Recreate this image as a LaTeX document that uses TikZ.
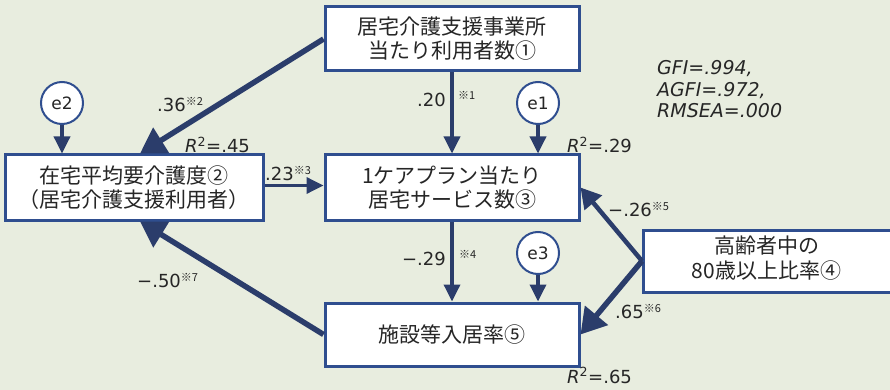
\documentclass[tikz,border=0pt]{standalone}
\usepackage{fontspec}
\setmainfont{DejaVu Sans}
\newfontfamily\jp{Noto Sans CJK JP}
\usetikzlibrary{arrows.meta,calc}
\definecolor{bgc}{HTML}{E8EDDF}
\definecolor{navy}{HTML}{2B3D6B}
\definecolor{boxblue}{HTML}{2F4E8F}
\definecolor{txt}{HTML}{262626}
\newcommand\kome[1]{\raisebox{6pt}{\fontsize{11}{11}\selectfont\jp ※#1}}
\begin{document}
\begin{tikzpicture}[x=1pt,y=-1pt,
  box/.style={draw=boxblue, line width=3pt, fill=white, font=\jp\fontsize{21}{24}\selectfont, text=txt, align=center, inner sep=0pt},
  err/.style={circle, draw=boxblue, line width=2pt, fill=white, minimum size=42pt, inner sep=0pt, font=\fontsize{17}{19}\selectfont, text=txt},
  thinarrow/.style={draw=navy, line width=3.5pt, -{Triangle[length=17pt,width=16pt]}},
  midarrow/.style={draw=navy, line width=4.5pt, -{Triangle[length=20pt,width=22pt]}},
  heavyarrow/.style={draw=navy, line width=5.5pt, -{Triangle[length=25pt,width=29pt]}},
  lab/.style={font=\fontsize{18}{20}\selectfont, text=txt, inner sep=0pt},
  kom/.style={font=\jp\fontsize{11}{11}\selectfont, text=txt, inner sep=0pt},
  fitlab/.style={font=\fontsize{19}{22}\selectfont\itshape, text=txt, inner sep=0pt, anchor=base west},
]
\useasboundingbox (0,0) rectangle (890,390);
\fill[bgc] (0,0) rectangle (890,390);
\clip (0,0) rectangle (890,390);

% boxes
\node[box, minimum width=254pt, minimum height=64pt] (b1) at (452,39) {居宅介護支援事業所\\当たり利用者数①};
\node[box, minimum width=258pt, minimum height=65pt] (b2) at (134,187.5) {在宅平均要介護度②\\（居宅介護支援利用者）};
\node[box, minimum width=254pt, minimum height=65pt] (b3) at (452,187.5) {1ケアプラン当たり\\居宅サービス数③};
\node[box, minimum width=254pt, minimum height=63pt] (b5) at (452,334.5) {施設等入居率⑤};
\node[box, minimum width=258pt, minimum height=62pt, anchor=west] (b4) at (642,261) {\begin{tabular}{@{}c@{\hspace{12pt}}}高齢者中の\\80歳以上比率④\end{tabular}};

% error terms
\node[err] (e2) at (62,103) {e2};
\node[err] (e1) at (538,103) {e1};
\node[err] (e3) at (538,253) {e3};

% connectors
\draw[thinarrow] (e2) -- (e2 |- b2.north);
\draw[thinarrow] (e1) -- (e1 |- b3.north);
\draw[thinarrow] (e3) -- (e3 |- b5.north);
\draw[thinarrow] (b1.south) -- (b3.north);
\draw[thinarrow] (b3.south) -- (b5.north);
\draw[thinarrow] ($(b2.east)+(0,-2)$) -- ($(b3.west)+(0,-2)$);
\draw[heavyarrow] (b1.west) -- ($(b2.north)+(6,0)$);
\draw[heavyarrow] (b5.west) -- ($(b2.south)+(6,0)$);
\draw[midarrow] (b4.west) -- (b3.east);
\draw[heavyarrow] (b4.west) -- (b5.east);

% coefficient labels
\node[lab, anchor=base west] (l36) at (157,112) {.36\kome{2}};
\node[lab, anchor=base west] (r45) at (185,153) {\textit{R}\textsuperscript{2}=.45};
\node[lab, anchor=base west] (l23) at (265,180) {.23\kome{3}};
\node[lab, anchor=base east] (l20) at (446,107) {.20};
\node[kom, anchor=base west] (k1) at (458,100) {※1};
\node[lab, anchor=base west] (r29) at (567,153) {\textit{R}\textsuperscript{2}=.29};
\node[lab, anchor=base west] (l26) at (608,216) {−.26\kome{5}};
\node[lab, anchor=base east] (l29) at (446,265) {−.29};
\node[kom, anchor=base west] (k4) at (459,258) {※4};
\node[lab, anchor=base west] (l50) at (137,287) {−.50\kome{7}};
\node[lab, anchor=base west] (l65) at (615,318) {.65\kome{6}};
\node[lab, anchor=base west] (r65) at (567,383) {\textit{R}\textsuperscript{2}=.65};

% fit indices
\node[fitlab] (gfi) at (657,75) {GFI=.994,};
\node[fitlab] (agfi) at (657,97) {AGFI=.972,};
\node[fitlab] (rmsea) at (657,118) {RMSEA=.000};
\end{tikzpicture}
\end{document}
